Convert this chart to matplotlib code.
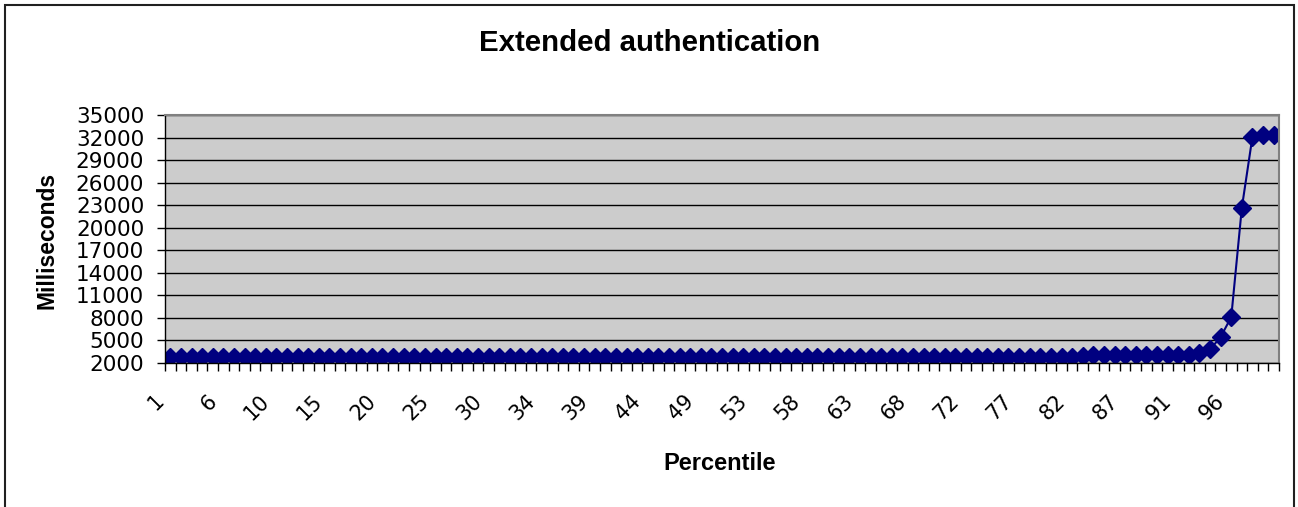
import matplotlib.pyplot as plt
import matplotlib.transforms as mtransforms
from matplotlib.patches import Rectangle
import numpy as np

# response time (ms) per percentile bucket, 105 buckets
ms_values = [
    2800, 2800, 2800, 2800, 2800, 2800, 2800, 2800, 2800, 2800,
    2800, 2800, 2800, 2800, 2800, 2800, 2800, 2800, 2800, 2800,
    2800, 2800, 2800, 2800, 2800, 2800, 2800, 2800, 2800, 2800,
    2800, 2800, 2800, 2800, 2800, 2800, 2800, 2800, 2800, 2800,
    2800, 2800, 2800, 2800, 2800, 2800, 2800, 2800, 2800, 2800,
    2800, 2800, 2800, 2800, 2800, 2800, 2800, 2800, 2800, 2800,
    2800, 2800, 2800, 2800, 2800, 2800, 2800, 2800, 2800, 2800,
    2800, 2800, 2800, 2800, 2800, 2800, 2800, 2800, 2800, 2800,
    2800, 2800, 2800, 2800, 2800, 2800, 2880, 3100, 3100, 3100,
    3100, 3100, 3100, 3100, 3100, 3100, 3100, 3330, 3800, 5460,
    8120, 22690, 32130, 32360, 32360,
]
percentile_labels = ["1", "6", "10", "15", "20", "25", "30", "34", "39", "44",
                     "49", "53", "58", "63", "68", "72", "77", "82", "87", "91", "96"]
label_every = 5
y_ticks = [2000, 5000, 8000, 11000, 14000, 17000, 20000, 23000, 26000, 29000, 32000, 35000]

W, H = 1298, 507
fig = plt.figure(figsize=(W / 100, H / 100), dpi=100)
fig.patch.set_facecolor("white")

# chart border (runs off the bottom edge)
fig.patches.append(Rectangle((4.5 / W, -0.05), (W - 9) / W, 1.05 - 4.5 / H,
                             transform=fig.transFigure, fill=False,
                             edgecolor="#202020", linewidth=1.5))

ax = fig.add_axes([165 / W, 1 - 363 / H, (1279 - 165) / W, (363 - 115) / H])
ax.set_facecolor("#cccccc")

n = len(ms_values)
x = np.arange(n)
ax.plot(x, ms_values, color="#000080", linewidth=1.5, marker="D",
        markersize=9, markerfacecolor="#000080", markeredgecolor="#000080")

ax.set_xlim(-0.5, n - 0.5)
ax.set_ylim(y_ticks[0], y_ticks[-1])

ax.set_yticks(y_ticks)
ax.set_yticklabels([str(v) for v in y_ticks], fontfamily="DejaVu Sans", fontsize=15.5)
ax.tick_params(axis="y", direction="out", length=6, width=1, pad=9, colors="black")
ax.grid(axis="y", color="black", linewidth=1)
ax.set_axisbelow(True)

# tick marks at category boundaries, labels at every 5th category
ax.set_xticks(np.arange(n + 1) - 0.5)
ax.set_xticklabels([])
ax.tick_params(axis="x", which="major", direction="out", length=6, width=1, colors="black")
label_pos = x[::label_every][:len(percentile_labels)]
ax.set_xticks(label_pos, minor=True)
ax.set_xticklabels(percentile_labels, minor=True, rotation=45, ha="right",
                   rotation_mode="anchor", fontfamily="DejaVu Sans", fontsize=15)
ax.tick_params(axis="x", which="minor", length=0, pad=20)
shift = mtransforms.ScaledTranslation(-17 / 100, 0, fig.dpi_scale_trans)
for lbl in ax.get_xticklabels(minor=True):
    lbl.set_transform(lbl.get_transform() + shift)

for side in ("left", "bottom"):
    ax.spines[side].set_color("black")
    ax.spines[side].set_linewidth(1)
for side in ("top", "right"):
    ax.spines[side].set_color("#808080")
    ax.spines[side].set_linewidth(1.5)

fig.text(650 / W, 1 - 51 / H, "Extended authentication", ha="center", va="baseline",
         fontfamily="Liberation Sans", fontweight="bold", fontsize=21.2)
fig.text(47 / W, 1 - 240 / H, "Milliseconds", ha="center", va="center", rotation=90,
         fontfamily="Liberation Sans", fontweight="bold", fontsize=16.5)
fig.text(720 / W, 1 - 463 / H, "Percentile", ha="center", va="center",
         fontfamily="Liberation Sans", fontweight="bold", fontsize=17)

fig.savefig("out.png", dpi=100)
